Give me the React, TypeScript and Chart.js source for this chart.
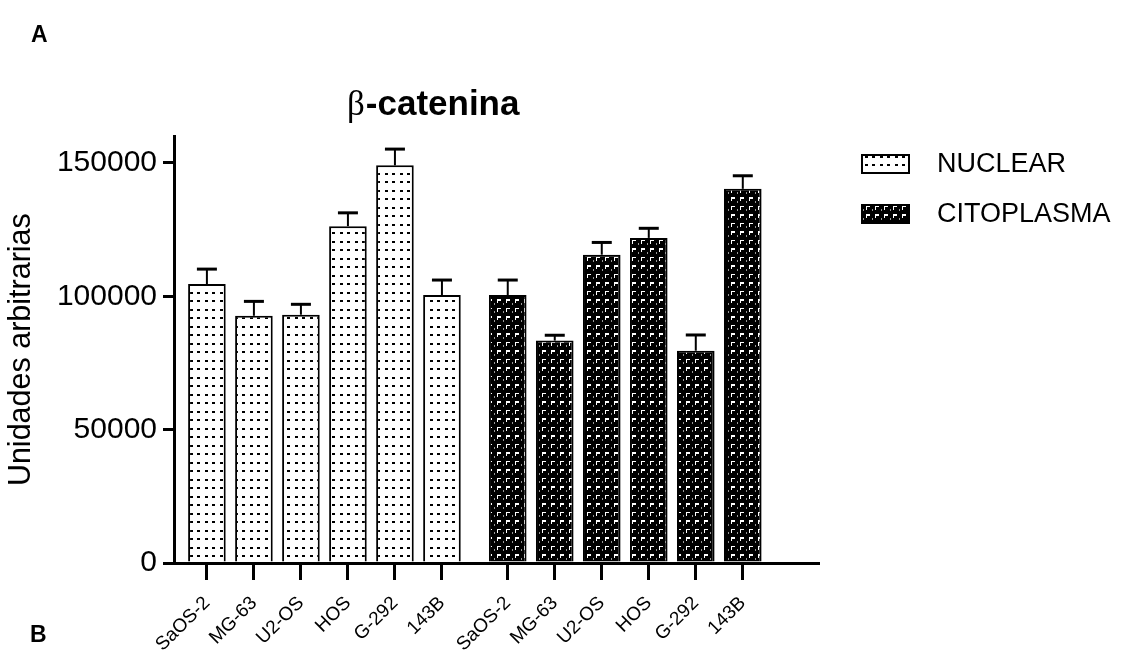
import React, { useEffect, useRef } from 'react';
import { Chart, registerables } from 'chart.js';

Chart.register(...registerables);

// ---------- data ----------
const cellLines = ['SaOS-2', 'MG-63', 'U2-OS', 'HOS', 'G-292', '143B'];
const seriesNames = ['NUCLEAR', 'CITOPLASMA'];
const nuclearValues = [104600, 92700, 93100, 126300, 149100, 100500];
const nuclearErrors = [5600, 5400, 3900, 5000, 6100, 5600];
const citoplasmaValues = [100500, 83400, 115600, 121900, 79600, 140300];
const citoplasmaErrors = [5600, 2000, 4600, 3600, 5900, 4900];
const yTickValues = [0, 50000, 100000, 150000];
const chartTitle = 'β-catenina';
const yAxisTitle = 'Unidades arbitrarias';
const panelLabels = ['A', 'B'];

const FONT = "'Liberation Sans', Arial, Helvetica, sans-serif";
const GROUP_GAP = 0.4;

function makeDotPattern(ctx: CanvasRenderingContext2D) {
  const t = document.createElement('canvas');
  t.width = 15;
  t.height = 17;
  const c = t.getContext('2d')!;
  c.fillStyle = '#fff';
  c.fillRect(0, 0, 15, 17);
  c.fillStyle = '#000';
  c.fillRect(2, 3, 3, 2);
  c.fillRect(10, 3, 3, 2);
  c.fillRect(2, 11, 3, 2);
  c.fillRect(10, 11, 3, 2);
  return ctx.createPattern(t, 'repeat')!;
}

function makeBrickPattern(ctx: CanvasRenderingContext2D) {
  const t = document.createElement('canvas');
  t.width = 9;
  t.height = 17;
  const c = t.getContext('2d')!;
  c.fillStyle = '#000';
  c.fillRect(0, 0, 9, 17);
  c.fillStyle = '#fff';
  c.fillRect(2, 2, 4, 1);
  c.fillRect(2, 2, 1, 4);
  c.fillRect(2, 10, 4, 2);
  c.fillRect(2, 10, 1, 4);
  c.fillStyle = '#999';
  c.fillRect(8, 5, 1, 2);
  c.fillRect(8, 14, 1, 2);
  return ctx.createPattern(t, 'repeat')!;
}

export default function App() {
  const canvasRef = useRef<HTMLCanvasElement | null>(null);

  useEffect(() => {
    const canvas = canvasRef.current!;
    const ctx = canvas.getContext('2d')!;
    const dotPattern = makeDotPattern(ctx);
    const brickPattern = makeBrickPattern(ctx);
    const patterns = [dotPattern, brickPattern];

    const groups = [nuclearValues, citoplasmaValues];
    const errors = [nuclearErrors, citoplasmaErrors];
    const pos = (g: number, i: number) => g * (cellLines.length + GROUP_GAP) + i;
    const positions: number[] = [];
    const xLabels: string[] = [];
    groups.forEach((_, g) => cellLines.forEach((name, i) => {
      positions.push(pos(g, i));
      xLabels.push(name);
    }));

    const errorBars = {
      id: 'errorBars',
      afterDatasetsDraw(chart: any) {
        const c = chart.ctx;
        const ys = chart.scales.y;
        errors.forEach((errs, di) => {
          const meta = chart.getDatasetMeta(di);
          meta.data.forEach((bar: any, i: number) => {
            const v = groups[di][i];
            const top = ys.getPixelForValue(v + errs[i]);
            c.save();
            c.strokeStyle = '#000';
            c.lineWidth = 2;
            c.beginPath();
            c.moveTo(bar.x, bar.y);
            c.lineTo(bar.x, top);
            c.stroke();
            c.lineWidth = 3;
            c.beginPath();
            c.moveTo(bar.x - 10, top);
            c.lineTo(bar.x + 10, top);
            c.stroke();
            c.restore();
          });
        });
      },
    };

    const decorations = {
      id: 'decorations',
      afterDraw(chart: any) {
        const c = chart.ctx;
        const area = chart.chartArea;
        c.save();
        c.fillStyle = '#000';
        c.textBaseline = 'alphabetic';
        c.textAlign = 'left';
        // panel letters
        c.font = `bold 23px ${FONT}`;
        c.fillText(panelLabels[0], 31, 42);
        c.fillText(panelLabels[1], 30, 642);
        // title
        const first = chartTitle.slice(0, 1);
        const rest = chartTitle.slice(1);
        c.font = `35px 'Liberation Serif', 'DejaVu Serif', serif`;
        const tx = 347;
        const ty = 115;
        c.fillText(first, tx, ty);
        const w1 = c.measureText(first).width;
        c.font = `bold 35px ${FONT}`;
        c.fillText(rest, tx + w1 + 1, ty);
        // legend
        const bx = area.right + 44;
        const rows = [164, 214];
        seriesNames.forEach((name, k) => {
          const cy = rows[k];
          c.fillStyle = patterns[k];
          c.fillRect(bx, cy - 9, 47, 18);
          c.strokeStyle = '#000';
          c.lineWidth = 2;
          c.strokeRect(bx, cy - 9, 47, 18);
          c.fillStyle = '#000';
          c.font = `27px ${FONT}`;
          c.textBaseline = 'middle';
          c.fillText(name, bx + 75, cy + 1);
        });
        c.restore();
      },
    };

    const chart = new Chart(canvas, {
      type: 'bar',
      data: {
        datasets: groups.map((vals, g) => ({
          label: seriesNames[g],
          data: vals.map((y, i) => ({ x: pos(g, i), y })),
          backgroundColor: patterns[g],
          borderColor: '#000',
          borderWidth: 2,
          barPercentage: 0.8,
          categoryPercentage: 1,
          grouped: false,
        })),
      },
      options: {
        responsive: false,
        animation: false,
        devicePixelRatio: 1,
        layout: { padding: { left: 0, right: 310, top: 136.3, bottom: 0 } },
        plugins: {
          legend: { display: false },
          title: { display: false },
          tooltip: { enabled: false },
        },
        scales: {
          x: {
            type: 'linear',
            min: -0.7,
            max: 13.0,
            offset: false,
            afterBuildTicks: (s: any) => {
              s.ticks = positions.map((v) => ({ value: v }));
            },
            afterFit: (s: any) => {
              s.height = 90;
            },
            border: { display: true, color: '#000', width: 3 },
            grid: {
              offset: false,
              drawOnChartArea: false,
              drawTicks: true,
              tickLength: 17,
              tickWidth: 3,
              lineWidth: 3,
              tickColor: '#000',
            },
            ticks: {
              autoSkip: false,
              minRotation: 45,
              maxRotation: 45,
              padding: 12,
              color: '#000',
              font: { family: FONT, size: 19 },
              callback: (_v: any, i: number) => xLabels[i],
            },
          },
          y: {
            min: 0,
            max: 160000,
            afterBuildTicks: (s: any) => {
              s.ticks = yTickValues.map((v) => ({ value: v }));
            },
            afterFit: (s: any) => {
              s.width = 174;
            },
            border: { display: true, color: '#000', width: 3 },
            grid: {
              drawOnChartArea: false,
              drawTicks: true,
              tickLength: 11,
              tickWidth: 3,
              lineWidth: 3,
              tickColor: '#000',
            },
            ticks: {
              color: '#000',
              padding: 6,
              font: { family: FONT, size: 30 },
              callback: (v: any) => String(v),
            },
            title: {
              display: true,
              text: yAxisTitle,
              color: '#000',
              font: { family: FONT, size: 30.5 },
              padding: { top: 3, bottom: 0 },
            },
          },
        },
      } as any,
      plugins: [errorBars, decorations],
    });

    return () => chart.destroy();
  }, []);

  return (
    <div style={{ position: 'absolute', left: 0, top: 0, width: 1128, height: 653, background: '#fff' }}>
      <canvas ref={canvasRef} width={1128} height={653} />
    </div>
  );
}
